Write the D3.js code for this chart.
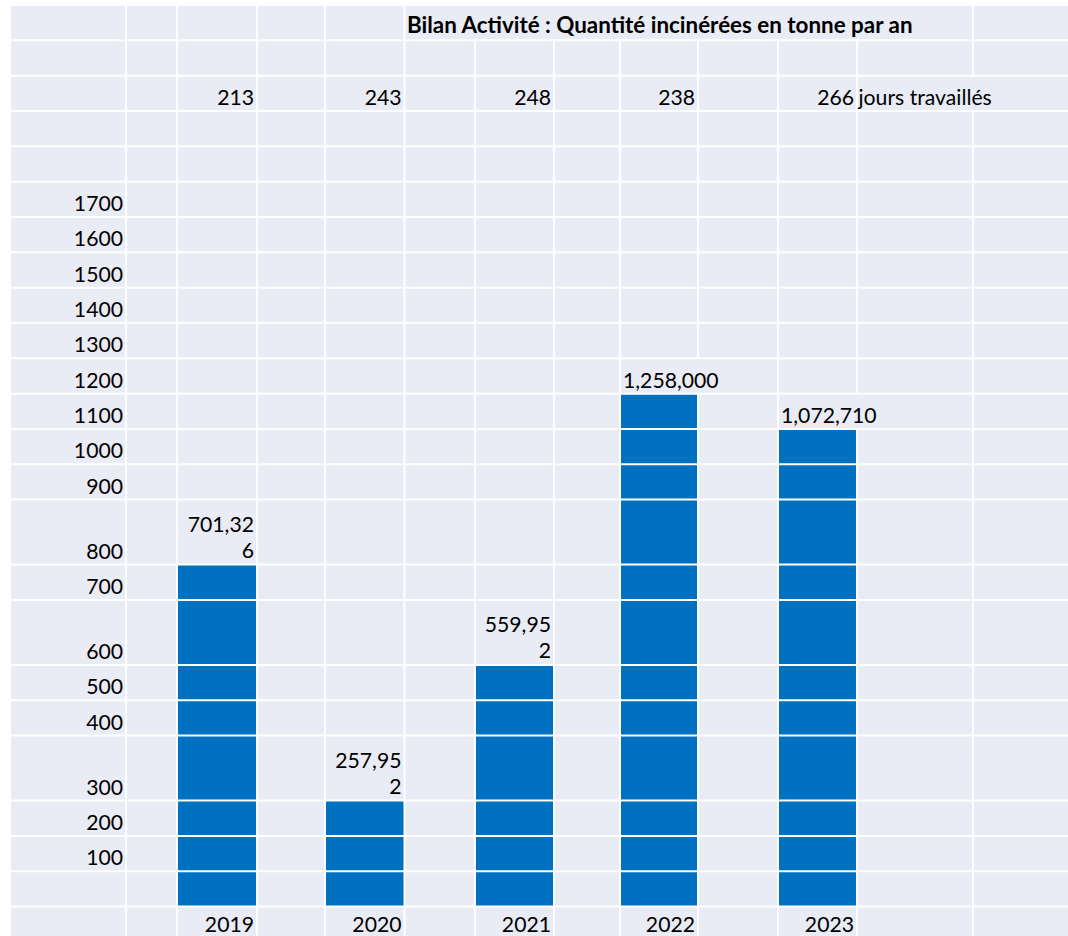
<!DOCTYPE html>
<html><head><meta charset="utf-8">
<script src="https://cdn.jsdelivr.net/npm/d3@7"></script>
<style>html,body{margin:0;padding:0;background:#fff;} svg{display:block;font-family:Lato, "Open Sans", sans-serif;}</style>
</head><body><svg id="c" width="1068" height="936"></svg>
<script>
// ---------- data ----------
const title = "Bilan Activité : Quantité incinérées en tonne par an";
const years = ["2019", "2020", "2021", "2022", "2023"];
const daysWorked = [213, 243, 248, 238, 266];
const daysUnit = "jours travaillés";
const barLevels = [800, 300, 600, 1200, 1100];          // level reached on the drawn axis
const valueLabels = ["701,326", "257,952", "559,952", "1,258,000", "1,072,710"];
const yTicks = [1700, 1600, 1500, 1400, 1300, 1200, 1100, 1000, 900, 800, 700, 600, 500, 400, 300, 200, 100];

// ---------- layout ----------
const W = 1068, H = 936;
const colEdges = [11, 126, 177, 257, 325, 404.5, 475, 554, 620, 698, 778, 857, 973, 1100];
const barCols = [2, 4, 6, 8, 10];
const wrapLabel = [true, true, true, false, false];
const gridTop = 5, rowH = 35.33, tallH = 65;
const tallRows = [800, 600, 300];
const bg = "#E9EBF5", barColor = "#0070C0", fontSize = 21.2, titleSize = 22.4;

const rows = ["title", "blank", "days", "blank", "blank", ...yTicks, 0, "years", "extra"];
const rowEdges = [gridTop];
rows.forEach(r => rowEdges.push(rowEdges[rowEdges.length - 1] + (tallRows.includes(r) ? tallH : rowH)));
const rowIndex = v => rows.indexOf(v);

// y scale: value -> bottom edge of the row carrying that tick label
const yDomain = [0, ...yTicks.slice().reverse()];
const y = d3.scaleLinear().domain(yDomain).range(yDomain.map(v => rowEdges[rowIndex(v) + 1]));
const xCol = d3.scaleOrdinal().domain(years).range(barCols);
const colL = yr => colEdges[xCol(yr)], colR = yr => colEdges[xCol(yr) + 1];

const svg = d3.select("#c");
svg.append("rect").attr("width", W).attr("height", H).attr("fill", "#fff");
svg.append("rect").attr("x", colEdges[0]).attr("y", gridTop).attr("width", W - colEdges[0]).attr("height", H - gridTop).attr("fill", bg);

const gBars = svg.append("g");
const gLines = svg.append("g");
const gText = svg.append("g").attr("font-size", fontSize).attr("fill", "#000");

// bars
gBars.selectAll("rect").data(years).join("rect")
  .attr("x", d => colL(d)).attr("width", d => colR(d) - colL(d))
  .attr("y", (d, i) => y(barLevels[i]))
  .attr("height", (d, i) => y(0) - y(barLevels[i]))
  .attr("fill", barColor);

const overflow = [];
function txt(row, x, yb, s, anchor, opts = {}) {
  const t = gText.append("text").attr("x", x).attr("y", yb).attr("text-anchor", anchor).text(s);
  if (opts.bold) t.attr("font-weight", "bold").attr("font-size", titleSize);
  if (opts.overflow) overflow.push({ row, node: t.node() });
  return t;
}
const base = r => rowEdges[r + 1] - 6;

// title
txt(0, 407, rowEdges[1] - 7, title, "start", { bold: true, overflow: true });

// days row
years.forEach((yr, i) => txt(2, colR(yr) - 3, base(2), String(daysWorked[i]), "end"));
txt(2, colR(years[years.length - 1]) + 1.5, base(2), daysUnit, "start", { overflow: true });

// y tick labels
yTicks.forEach(v => txt(rowIndex(v), colEdges[1] - 3, y(v) - 6, String(v), "end"));

// years (at the bottom edge, as in the spreadsheet view)
years.forEach(yr => txt(rowIndex("years"), colR(yr) - 3, H - 4, yr, "end"));

// value labels
years.forEach((yr, i) => {
  const r = rowIndex(barLevels[i]);
  const bottom = y(barLevels[i]);
  const s = valueLabels[i];
  if (wrapLabel[i]) {
    const maxW = colR(yr) - colL(yr) - 8;
    const probe = gText.append("text");
    const lines = []; let cur = "";
    for (const ch of s) {
      probe.text(cur + ch);
      if (probe.node().getComputedTextLength() > maxW && cur) { lines.push(cur); cur = ch; }
      else cur += ch;
    }
    lines.push(cur); probe.remove();
    lines.forEach((l, k) => txt(r, colR(yr) - 3, bottom - 7 - (lines.length - 1 - k) * 25.5, l, "end"));
  } else {
    txt(r, colL(yr) + 3, bottom - 6, s, "start", { overflow: true });
  }
});

// grid lines (hidden behind overflowing text like a spreadsheet)
const spans = overflow.map(o => { const b = o.node.getBBox(); return { row: o.row, x0: b.x, x1: b.x + b.width }; });
colEdges.slice(1).forEach(x => {
  rows.forEach((r, ri) => {
    const y0 = rowEdges[ri], y1 = Math.min(rowEdges[ri + 1], H);
    if (y0 >= H) return;
    if (spans.some(s => s.row === ri && s.x0 < x && s.x1 > x)) return;
    gLines.append("line").attr("x1", x).attr("x2", x).attr("y1", y0).attr("y2", y1)
      .attr("stroke", "#fff").attr("stroke-width", 2);
  });
});
rowEdges.filter(e => e < H).forEach(e => {
  gLines.append("line").attr("x1", colEdges[0]).attr("x2", W).attr("y1", e).attr("y2", e)
    .attr("stroke", "#fff").attr("stroke-width", 2);
});
</script></body></html>
